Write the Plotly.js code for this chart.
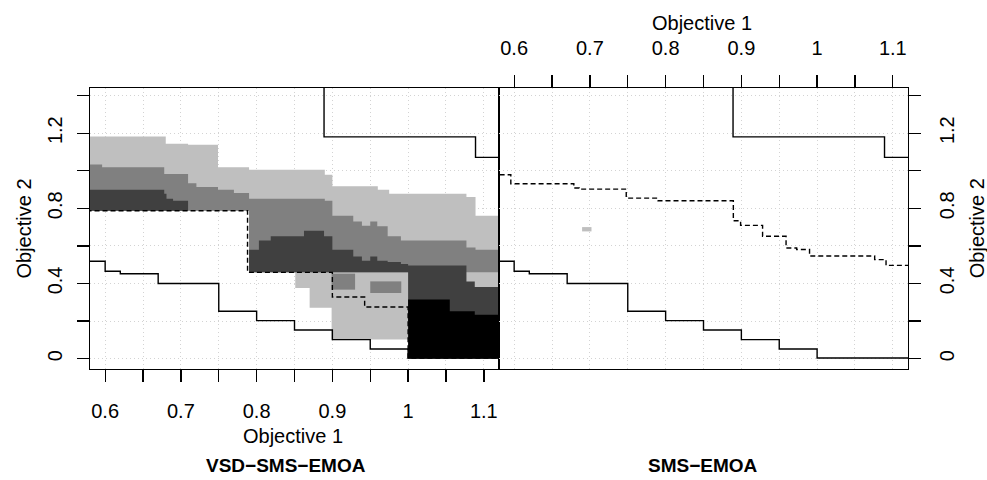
<!DOCTYPE html>
<html>
<head>
<meta charset="utf-8">
<script src="https://cdn.plot.ly/plotly-3.0.1.min.js"></script>
<style>html,body{margin:0;padding:0;background:#fff;}#chart{width:987px;height:480px;}</style>
</head>
<body>
<div id="chart"></div>
<script>
// ---- tick labels ----
const xTickVals = [0.6, 0.65, 0.7, 0.75, 0.8, 0.85, 0.9, 0.95, 1.0, 1.05, 1.1];
const xTickText = ['0.6', '', '0.7', '', '0.8', '', '0.9', '', '1', '', '1.1'];
const yTickVals = [0, 0.2, 0.4, 0.6, 0.8, 1.0, 1.2, 1.4];
const yTickText = ['0', '', '0.4', '', '0.8', '', '1.2', ''];

// ---- attainment surfaces (points of each staircase) ----
const bestX = [0.57, 0.60, 0.62, 0.67, 0.75, 0.80, 0.85, 0.90, 0.95, 1.00];
const bestY = [0.518, 0.465, 0.452, 0.400, 0.252, 0.202, 0.152, 0.101, 0.051, 0.0035];
const worstX = [0.889, 1.089];
const worstY = [1.180, 1.071];
const medVsdX = [0.57, 0.788, 0.900, 0.9426, 1.000];
const medVsdY = [0.787, 0.459, 0.328, 0.275, 0.0035];
const medSmsX = [0.57, 0.5956, 0.6788, 0.6858, 0.748, 0.790, 0.8894, 0.899, 0.928, 0.959, 0.973, 0.990, 1.076, 1.091];
const medSmsY = [0.979, 0.931, 0.908, 0.902, 0.854, 0.840, 0.734, 0.709, 0.651, 0.589, 0.581, 0.546, 0.527, 0.496];

// ---- EAF difference regions (staircase top / bottom boundaries) ----
// [0.2,0.4)
const lightTopX = [0.5, 0.680, 0.7095, 0.749, 0.790, 0.890, 0.900, 0.960, 0.975, 1.077, 1.089];
const lightTopY = [1.182, 1.144, 1.138, 1.018, 1.005, 0.979, 0.917, 0.899, 0.878, 0.860, 0.761];
const lightBotX = [0.5, 0.790, 0.851, 0.870, 0.899, 1.000];
const lightBotY = [0.787, 0.459, 0.376, 0.270, 0.101, 0.000];
// [0.4,0.6)
const midTopX = [0.5, 0.596, 0.678, 0.7095, 0.7205, 0.749, 0.770, 0.790, 0.890, 0.900, 0.9276, 0.939, 0.950, 0.9593, 0.973, 0.9905, 1.077, 1.089];
const midTopY = [1.033, 1.018, 0.982, 0.934, 0.913, 0.899, 0.881, 0.851, 0.840, 0.761, 0.730, 0.707, 0.730, 0.704, 0.651, 0.628, 0.592, 0.580];
const midBotX = [0.5, 0.790];
const midBotY = [0.787, 0.459];
const midPatchAX = [0.899, 0.930], midPatchAY = [0.367, 0.452];
const midPatchBX = [0.950, 0.991], midPatchBY = [0.349, 0.411];
// [0.6,0.8)
const darkATopX = [0.5, 0.678, 0.681, 0.6897];
const darkATopY = [0.899, 0.878, 0.851, 0.840];
const darkABotX = [0.5];
const darkABotY = [0.787];
const darkBTopX = [0.790, 0.803, 0.8186, 0.8625, 0.889, 0.900, 0.9276, 0.939, 0.950, 0.9593, 0.973, 0.9905, 1.000, 1.077, 1.088];
const darkBTopY = [0.580, 0.628, 0.651, 0.681, 0.651, 0.580, 0.544, 0.521, 0.544, 0.521, 0.514, 0.504, 0.496, 0.411, 0.381];
const darkBBotX = [0.790, 1.000];
const darkBBotY = [0.459, 0.200];
// [0.8,1.0]
const blackTopX = [1.000, 1.055, 1.088];
const blackTopY = [0.314, 0.252, 0.234];
const blackBotX = [1.000];
const blackBotY = [0.000];
// right panel (SMS-EMOA better)
const rLightX = [0.6897, 0.7021], rLightY = [0.677, 0.700];

const levelColors = ['#BFBFBF', '#808080', '#404040', '#000000'];
const xRange = [0.58, 1.12];
const yRange = [-0.0554, 1.4404];
const far = 1.2, topFar = 2.0;

function stepVerts(xs, ys, xEnd) {
  const vx = [], vy = [];
  for (let i = 0; i < xs.length; i++) {
    const xn = i + 1 < xs.length ? xs[i + 1] : xEnd;
    vx.push(xs[i], xn); vy.push(ys[i], ys[i]);
  }
  return [vx, vy];
}
function region(tX, tY, bX, bY, end, color, xa, ya) {
  const t = stepVerts(tX, tY, end);
  const b = stepVerts(bX, bY, end);
  return {
    x: t[0].concat(b[0].slice().reverse()),
    y: t[1].concat(b[1].slice().reverse()),
    mode: 'lines', fill: 'toself', fillcolor: color,
    line: {width: 0, color: color}, hoverinfo: 'skip',
    xaxis: xa, yaxis: ya
  };
}
function rect(xs, ys, color, xa, ya) {
  return {
    x: [xs[0], xs[1], xs[1], xs[0]], y: [ys[0], ys[0], ys[1], ys[1]],
    mode: 'lines', fill: 'toself', fillcolor: color,
    line: {width: 0, color: color}, hoverinfo: 'skip', xaxis: xa, yaxis: ya
  };
}
function surface(xs, ys, dash, xa, ya) {
  return {
    x: [xs[0]].concat(xs, [far]),
    y: [topFar].concat(ys, [ys[ys.length - 1]]),
    mode: 'lines', line: {shape: 'hv', color: '#000', width: 1.4, dash: dash},
    hoverinfo: 'skip', xaxis: xa, yaxis: ya
  };
}

const traces = [
  region(lightTopX, lightTopY, lightBotX, lightBotY, far, levelColors[0], 'x', 'y'),
  region(midTopX, midTopY, midBotX, midBotY, far, levelColors[1], 'x', 'y'),
  rect(midPatchAX, midPatchAY, levelColors[1], 'x', 'y'),
  rect(midPatchBX, midPatchBY, levelColors[1], 'x', 'y'),
  region(darkATopX, darkATopY, darkABotX, darkABotY, 0.7095, levelColors[2], 'x', 'y'),
  region(darkBTopX, darkBTopY, darkBBotX, darkBBotY, far, levelColors[2], 'x', 'y'),
  region(blackTopX, blackTopY, blackBotX, blackBotY, far, levelColors[3], 'x', 'y'),
  surface(bestX, bestY, 'solid', 'x', 'y'),
  surface(worstX, worstY, 'solid', 'x', 'y'),
  surface(medVsdX, medVsdY, '5px,3px', 'x', 'y'),
  rect(rLightX, rLightY, levelColors[0], 'x2', 'y2'),
  surface(bestX, bestY, 'solid', 'x2', 'y2'),
  surface(worstX, worstY, 'solid', 'x2', 'y2'),
  surface(medSmsX, medSmsY, '5px,3px', 'x2', 'y2')
];

const FONT = 'Liberation Sans, Arial, Helvetica, sans-serif';
const common = {
  showline: true, linecolor: '#000', linewidth: 1.3, mirror: true,
  ticks: 'outside', ticklen: 12, tickwidth: 1.3, tickcolor: '#000',
  showgrid: true, gridcolor: '#d3d3d3', gridwidth: 1, griddash: '1px,3px',
  zeroline: false, fixedrange: true,
  tickfont: {family: FONT, size: 20, color: '#000'}
};
const xa = Object.assign({}, common, {range: xRange, tickmode: 'array', tickvals: xTickVals, ticktext: xTickText, tickangle: 0});
const ya = Object.assign({}, common, {range: yRange, tickmode: 'array', tickvals: yTickVals, ticktext: yTickText, tickangle: -90});

const layout = {
  width: 987, height: 480,
  margin: {l: 90, r: 79, t: 88, b: 111, pad: 0},
  paper_bgcolor: '#fff', plot_bgcolor: '#fff',
  showlegend: false,
  font: {family: FONT, color: '#000'},
  xaxis: Object.assign({}, xa, {domain: [0, 0.5], anchor: 'y', side: 'bottom', ticklabelstandoff: 12}),
  yaxis: Object.assign({}, ya, {domain: [0, 1], anchor: 'x', side: 'left', ticklabelstandoff: 7}),
  xaxis2: Object.assign({}, xa, {domain: [0.5, 1], anchor: 'y2', side: 'top', ticklabelstandoff: 12}),
  yaxis2: Object.assign({}, ya, {domain: [0, 1], anchor: 'x2', side: 'right', ticklabelstandoff: 9}),
  annotations: [
    {text: 'Objective 1', xref: 'paper', yref: 'paper', x: 0.2479, y: -0.2384, xanchor: 'center', yanchor: 'middle', showarrow: false, font: {size: 20}},
    {text: 'Objective 1', xref: 'paper', yref: 'paper', x: 0.7478, y: 1.2313, xanchor: 'center', yanchor: 'middle', showarrow: false, font: {size: 20}},
    {text: 'Objective 2', xref: 'paper', yref: 'paper', x: -0.0819, y: 0.5, xanchor: 'center', yanchor: 'middle', textangle: -90, showarrow: false, font: {size: 20}},
    {text: 'Objective 2', xref: 'paper', yref: 'paper', x: 1.084, y: 0.5, xanchor: 'center', yanchor: 'middle', textangle: -90, showarrow: false, font: {size: 20}},
    {text: '<b>VSD\u2212SMS\u2212EMOA</b>', xref: 'paper', yref: 'paper', x: 0.2402, y: -0.345, xanchor: 'center', yanchor: 'middle', showarrow: false, font: {size: 19}},
    {text: '<b>SMS\u2212EMOA</b>', xref: 'paper', yref: 'paper', x: 0.7494, y: -0.345, xanchor: 'center', yanchor: 'middle', showarrow: false, font: {size: 19}}
  ]
};

Plotly.newPlot('chart', traces, layout, {staticPlot: true, displayModeBar: false});
</script>
</body>
</html>
